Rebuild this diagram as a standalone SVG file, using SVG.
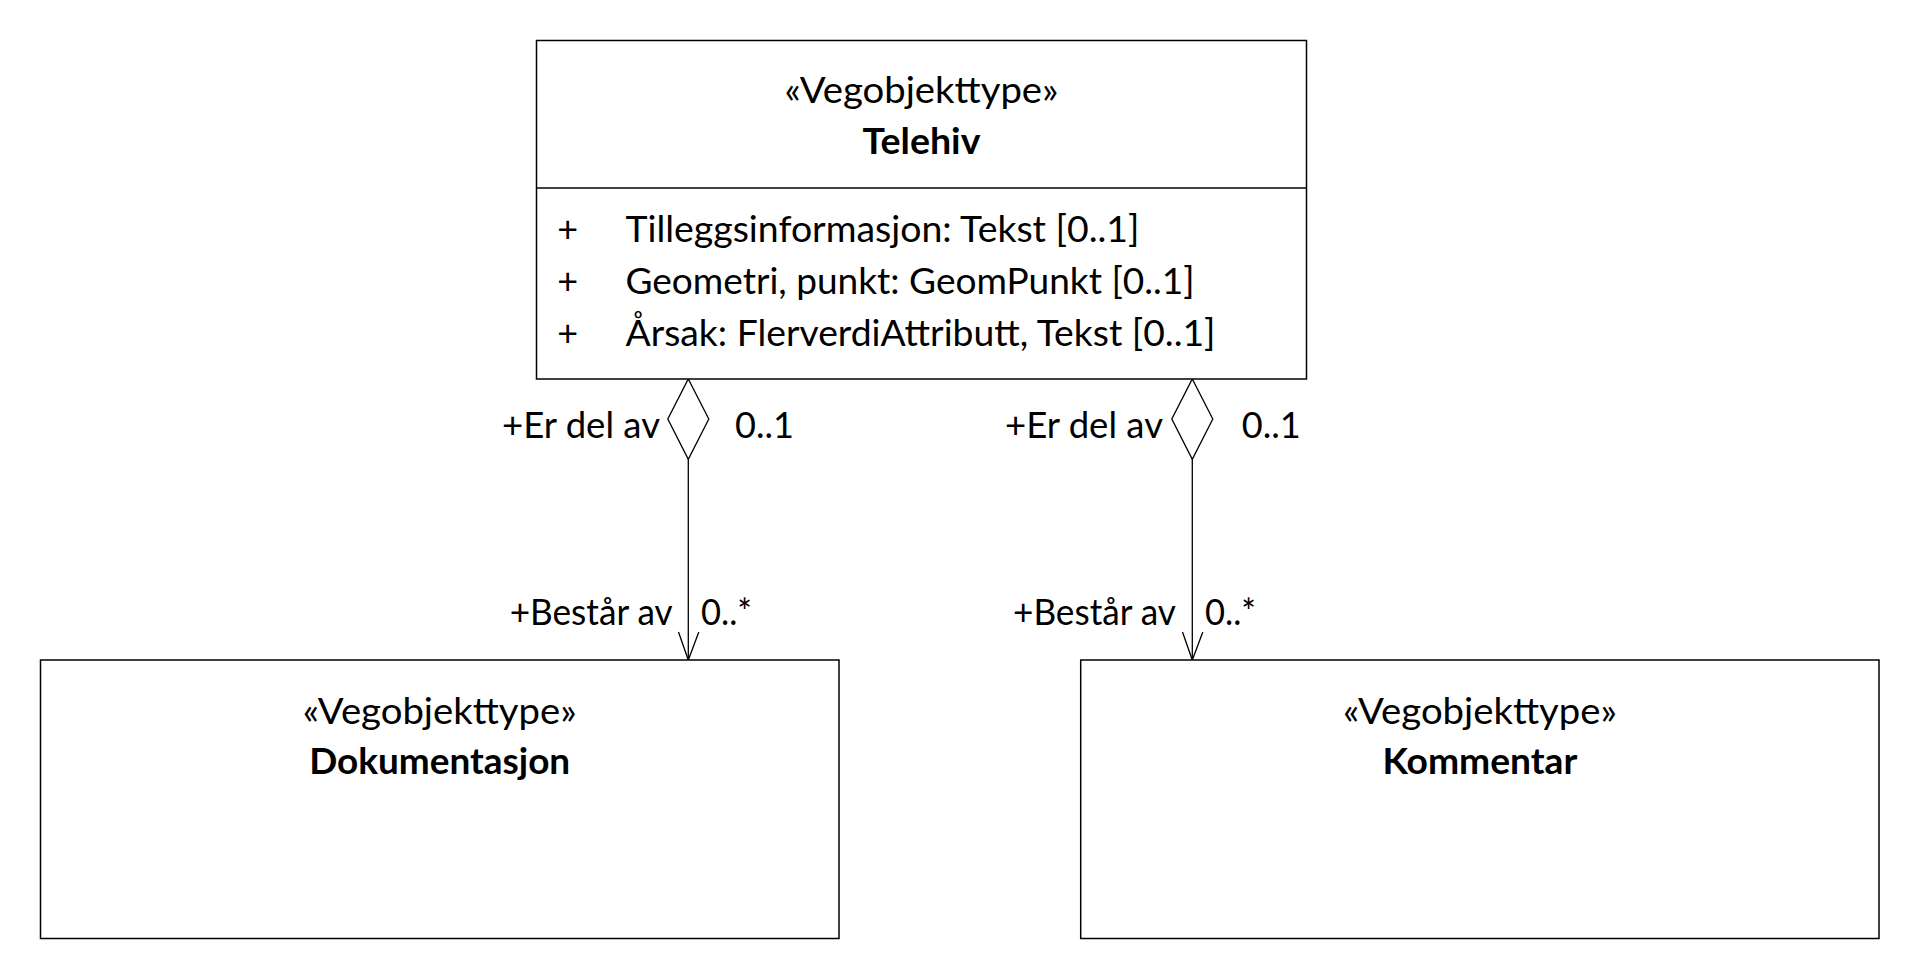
<svg xmlns="http://www.w3.org/2000/svg" width="1920" height="980" viewBox="0 0 1920 980">
<style>
  .box { fill: #ffffff; stroke: #000000; stroke-width: 1.5; }
  .ln { fill: none; stroke: #000000; stroke-width: 1.3; }
  .dia { fill: #ffffff; stroke: #000000; stroke-width: 1.3; }
  text { font-family: Lato, "Liberation Sans", sans-serif; font-size: 36px; fill: #000000; }
  .c { text-anchor: middle; }
  .e { text-anchor: end; }
  .b { font-weight: bold; }
</style>
<rect width="1920" height="980" fill="#ffffff"/>
<g id="connectors">
  <g id="conn-dokumentasjon">
    <line class="ln" x1="688.3" y1="459.3" x2="688.3" y2="660"/>
    <polyline class="ln" points="678.5,632 688.3,660 698.8,632"/>
    <polygon class="dia" points="688.3,379 708.8,419 688.3,459.3 667.8,419"/>
    <text class="e" x="660" y="438" textLength="158" lengthAdjust="spacingAndGlyphs">+Er del av</text>
    <text x="735" y="438" textLength="59" lengthAdjust="spacingAndGlyphs">0..1</text>
    <text class="e" x="672.7" y="625" textLength="163" lengthAdjust="spacingAndGlyphs">+Består av</text>
    <text x="701" y="625" textLength="51" lengthAdjust="spacingAndGlyphs">0..*</text>
  </g>
  <g id="conn-kommentar">
    <line class="ln" x1="1192.3" y1="459.3" x2="1192.3" y2="660"/>
    <polyline class="ln" points="1182.5,632 1192.3,660 1202.8,632"/>
    <polygon class="dia" points="1192.3,379 1212.8,419 1192.3,459.3 1171.8,419"/>
    <text class="e" x="1163" y="438" textLength="158" lengthAdjust="spacingAndGlyphs">+Er del av</text>
    <text x="1241.7" y="438" textLength="59" lengthAdjust="spacingAndGlyphs">0..1</text>
    <text class="e" x="1176" y="625" textLength="163" lengthAdjust="spacingAndGlyphs">+Består av</text>
    <text x="1205" y="625" textLength="51" lengthAdjust="spacingAndGlyphs">0..*</text>
  </g>
</g>
<g id="node-telehiv">
  <rect class="box" x="536.5" y="40.5" width="770" height="338.5"/>
  <line class="ln" x1="536.5" y1="188" x2="1306.5" y2="188"/>
  <text class="c" x="921.5" y="103" textLength="274" lengthAdjust="spacingAndGlyphs">«Vegobjekttype»</text>
  <text class="c b" x="921.5" y="154" textLength="118" lengthAdjust="spacingAndGlyphs">Telehiv</text>
  <text class="c" x="567.7" y="241.5">+</text>
  <text x="625.5" y="241.5" textLength="514" lengthAdjust="spacingAndGlyphs">Tilleggsinformasjon: Tekst [0..1]</text>
  <text class="c" x="567.7" y="293.5">+</text>
  <text x="625.5" y="293.5" textLength="569" lengthAdjust="spacingAndGlyphs">Geometri, punkt: GeomPunkt [0..1]</text>
  <text class="c" x="567.7" y="345.5">+</text>
  <text x="625.5" y="345.5" textLength="590" lengthAdjust="spacingAndGlyphs">Årsak: FlerverdiAttributt, Tekst [0..1]</text>
</g>
<g id="node-dokumentasjon">
  <rect class="box" x="40.5" y="660" width="798.5" height="278.5"/>
  <text class="c" x="439.7" y="724" textLength="274" lengthAdjust="spacingAndGlyphs">«Vegobjekttype»</text>
  <text class="c b" x="439.7" y="774" textLength="261" lengthAdjust="spacingAndGlyphs">Dokumentasjon</text>
</g>
<g id="node-kommentar">
  <rect class="box" x="1080.7" y="660" width="798.3" height="278.5"/>
  <text class="c" x="1479.9" y="724" textLength="274" lengthAdjust="spacingAndGlyphs">«Vegobjekttype»</text>
  <text class="c b" x="1479.9" y="774" textLength="195" lengthAdjust="spacingAndGlyphs">Kommentar</text>
</g>
</svg>
